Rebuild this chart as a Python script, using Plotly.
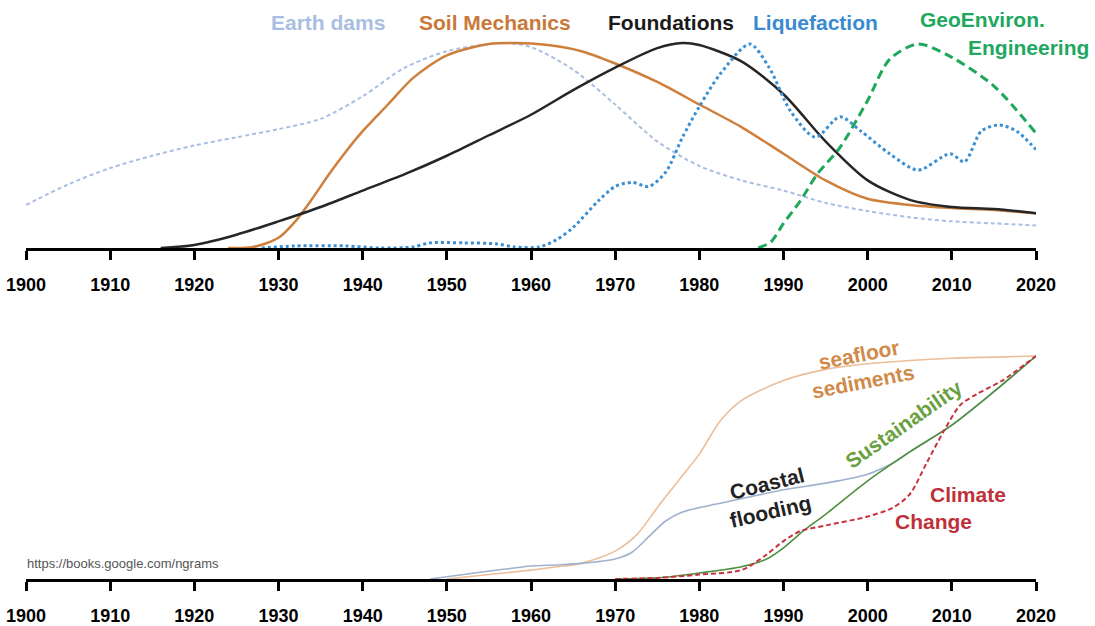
import plotly.graph_objects as go

W, H = 1095, 626

# ---------------- data (top panel: normalised n-gram frequency) ----------------
earth_years = [1900,1905,1910,1915,1920,1925,1930,1935,1940,1945,1950,1955,1957,1960,1965,1970,1975,1980,1985,1990,1995,2000,2005,2010,2015,2020]
earth_vals  = [0.21,0.31,0.39,0.45,0.50,0.54,0.58,0.63,0.74,0.88,0.96,0.995,1.0,0.98,0.87,0.70,0.52,0.40,0.33,0.28,0.22,0.18,0.15,0.13,0.12,0.11]

soil_years = [1924,1927,1930,1932,1934,1936,1938,1940,1943,1946,1950,1955,1958,1962,1966,1970,1975,1980,1985,1990,1995,2000,2005,2010,2015,2020]
soil_vals  = [0.0,0.005,0.05,0.13,0.24,0.36,0.47,0.57,0.70,0.83,0.94,0.995,1.0,0.99,0.96,0.90,0.81,0.70,0.59,0.46,0.33,0.24,0.21,0.195,0.185,0.17]

found_years = [1916,1920,1925,1930,1935,1940,1945,1950,1955,1960,1965,1970,1975,1978,1980,1985,1990,1995,2000,2005,2010,2015,2020]
found_vals  = [0.0,0.015,0.065,0.13,0.2,0.28,0.36,0.45,0.55,0.65,0.77,0.88,0.975,1.0,0.99,0.91,0.75,0.52,0.33,0.235,0.2,0.19,0.17]

liq_years = [1928,1932,1938,1942,1946,1948,1952,1956,1958,1961,1963,1965,1968,1970,1972,1974,1976,1978,1980,1982.5,1986,1988.3,1990.8,1993.8,1996.7,1999.2,2002.6,2006,2009.8,2011.5,2013.5,2015.6,2017.7,2020]
liq_vals  = [0.0,0.01,0.01,0.0,0.005,0.025,0.025,0.02,0.005,0.005,0.04,0.10,0.23,0.30,0.32,0.30,0.37,0.54,0.69,0.85,0.995,0.88,0.67,0.54,0.64,0.57,0.46,0.38,0.46,0.42,0.57,0.60,0.57,0.48]

geo_years = [1987,1988.5,1990,1992,1994,1996.7,2000,2002.6,2006,2010,2015,2020]
geo_vals  = [0.0,0.03,0.12,0.23,0.36,0.49,0.72,0.92,0.995,0.93,0.79,0.56]

# ---------------- data (bottom panel) ----------------
sea_years = [1950,1955,1960,1963,1966,1970,1972.6,1975,1977.5,1980,1982.5,1985,1990,1995,2000,2005,2010,2015,2020]
sea_vals  = [0.0,0.02,0.04,0.055,0.07,0.125,0.20,0.32,0.44,0.56,0.71,0.80,0.89,0.94,0.965,0.98,0.99,0.995,1.0]

coast_years = [1948,1952,1956,1960,1963,1966,1970,1972,1974,1976,1978,1980,1985,1990,1995,2000,2003,2005,2010,2015,2020]
coast_vals  = [0.0,0.02,0.04,0.058,0.063,0.07,0.09,0.12,0.19,0.26,0.30,0.32,0.36,0.40,0.43,0.47,0.52,0.57,0.69,0.84,1.0]

sust_years = [1970,1975,1980,1985,1988,1990,1992.5,1995,2000,2005,2010,2015,2020]
sust_vals  = [0.0,0.005,0.027,0.055,0.09,0.14,0.22,0.29,0.44,0.57,0.69,0.84,1.0]

clim_years = [1970,1975,1980,1985,1988,1990,1992,1995,2000,2003,2005,2007,2009,2011,2013,2016,2020]
clim_vals  = [0.0,0.005,0.02,0.04,0.11,0.17,0.215,0.24,0.28,0.32,0.38,0.52,0.66,0.78,0.83,0.89,1.0]

tick_years = list(range(1900, 2021, 10))
tick_labels = [str(y) for y in tick_years]

# ---------------- figure ----------------
fig = go.Figure()

def add(x, y, color, width, dash, axis):
    fig.add_trace(go.Scatter(x=x, y=y, mode="lines",
                             line=dict(color=color, width=width, dash=dash, shape="spline", smoothing=0.8),
                             xaxis="x" if axis == 1 else "x2",
                             yaxis="y" if axis == 1 else "y2",
                             showlegend=False, hoverinfo="skip"))

add(earth_years, earth_vals, "#a9bee2", 2, "4px,3px", 1)
add(soil_years, soil_vals, "#cf7f3c", 2.5, "solid", 1)
add(found_years, found_vals, "#262626", 2.5, "solid", 1)
add(liq_years, liq_vals, "#3a8fd2", 3, "dot", 1)
add(geo_years, geo_vals, "#1fa85c", 3, "9px,5px", 1)

add(sea_years, sea_vals, "#ebbd98", 1.6, "solid", 2)
add(coast_years, coast_vals, "#9fb2cc", 1.6, "solid", 2)
add(sust_years, sust_vals, "#4e8f3e", 1.6, "solid", 2)
add(clim_years, clim_vals, "#c8323e", 2, "5px,3px", 2)

xdom = [26 / W, 1036 / W]
axis_common = dict(range=[1900, 2020], domain=xdom, showgrid=False, zeroline=False,
                   showline=True, linecolor="black", linewidth=3, automargin=False,
                   ticks="outside", tickwidth=3, ticklen=9, tickcolor="black",
                   tickmode="array", tickvals=tick_years, ticktext=tick_labels,
                   tickfont=dict(family="Liberation Sans", size=18, color="black", weight="bold"),
                   ticklabelstandoff=9, fixedrange=True)

def ydom(px_bottom, px_top):
    return [1 - px_bottom / H, 1 - px_top / H]

fig.update_layout(
    template="none",
    width=W, height=H,
    margin=dict(l=0, r=0, t=0, b=0, pad=0, autoexpand=False),
    paper_bgcolor="white", plot_bgcolor="white",
    xaxis=dict(anchor="y", **axis_common),
    yaxis=dict(domain=ydom(248, 10), range=[0, (248 - 10) / 205], visible=False, fixedrange=True, automargin=False),
    xaxis2=dict(anchor="y2", **axis_common),
    yaxis2=dict(domain=ydom(579, 330), range=[0, (579 - 330) / 223], visible=False, fixedrange=True, automargin=False),
)

def label(text, px, py, color, size=21, angle=0, xanchor="center", weight="bold"):
    fig.add_annotation(text=text, x=px / W, y=1 - py / H, xref="paper", yref="paper",
                       showarrow=False, xanchor=xanchor, yanchor="middle", textangle=angle,
                       font=dict(family="Liberation Sans", size=size, color=color, weight=weight))

label("Earth dams", 328, 22, "#a9bee2")
label("Soil Mechanics", 495, 22, "#c8793a")
label("Foundations", 671, 22, "#1a1a1a")
label("Liquefaction", 815, 22, "#3a8ad0")
label("GeoEnviron.", 982, 20, "#20a860")
label("Engineering", 1028, 47, "#20a860")

label("seafloor", 859, 354, "#d08a4a", angle=-11)
label("sediments", 863, 381, "#d08a4a", angle=-11)
label("Sustainability", 903, 424, "#6aa040", angle=-35)
label("Coastal", 767, 483, "#222222", angle=-14)
label("flooding", 770, 511, "#222222", angle=-13)
label("Climate", 968, 494, "#c0303a")
label("Change", 933, 521, "#c0303a")
label("https://books.google.com/ngrams", 25, 563, "#555555", size=13, xanchor="left", weight="normal")

fig.write_html("out.html",
               config={"displayModeBar": False, "staticPlot": True},
               post_script="document.body.style.margin='0';document.body.style.overflow='hidden';")
